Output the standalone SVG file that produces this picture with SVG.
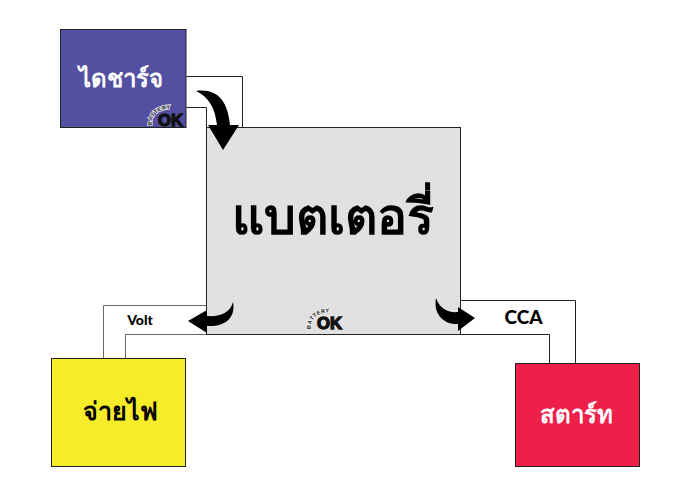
<svg xmlns="http://www.w3.org/2000/svg" xmlns:xlink="http://www.w3.org/1999/xlink" width="678" height="504" viewBox="0 0 678 504">
<style>
.box{stroke:#222;stroke-width:1}
.con{fill:none;stroke:#222;stroke-width:1}
.gr{stroke:#666}
.arr{fill:#000;stroke:none}
text{font-family:"Noto Sans","Noto Sans CJK SC",sans-serif;text-anchor:middle}
.th{font-weight:700}
.lb{font-family:"Lato","Noto Sans",sans-serif;font-weight:900}
.ok{font-family:"Liberation Sans",sans-serif;font-weight:700;font-size:17px;fill:#111;stroke:#111;stroke-width:1.300;text-anchor:start}
.bt{font-family:"Liberation Sans",sans-serif;font-size:5.500px;font-weight:700;fill:#111;stroke:#eee;stroke-width:1.500;paint-order:stroke;text-anchor:start;letter-spacing:.5px}
.tiny{fill:#999;stroke:#999}
</style>
<defs>
<path id="arc" d="M-6 0C-8 -10 2 -19 19 -16"/>
<g id="logo">
<text class="bt"><textPath href="#arc" xlink:href="#arc">BATTERY</textPath></text>
<text class="ok" x="0" y="0" textLength="25" lengthAdjust="spacingAndGlyphs">OK</text>
</g>
</defs>
<rect width="678" height="504" fill="#fff"/>
<g id="connectors">
<path class="con" d="M186.500 76.500H242.500V128"/>
<path class="con" d="M186.500 107.500H206.500V128"/>
<path class="con gr" d="M103.500 358V305.500H207"/>
<path class="con gr" d="M125.500 358V334.500H207"/>
<path class="con" d="M460 300.500H575.500V363"/>
<path class="con" d="M460 334.500H549.500V363"/>
</g>
<g id="node-battery">
<rect class="box" x="206.500" y="127.500" width="254" height="207" fill="#e1e1e1"/>
<text class="th" x="333" y="234" font-size="50" fill="#000">แบตเตอรี่</text>
<use href="#logo" xlink:href="#logo" x="317" y="329"/>
</g>
<g id="node-charge">
<rect class="box" x="60.500" y="29.500" width="125.500" height="98" fill="#5350a2"/>
<text class="th" x="120.500" y="87" font-size="24" fill="#fff">ไดชาร์จ</text>
<use href="#logo" xlink:href="#logo" x="158" y="125.500"/>
</g>
<g id="node-supply">
<rect class="box" x="51.500" y="358.500" width="134" height="108" fill="#f6ec2a"/>
<text class="th" x="120.500" y="420" font-size="25" fill="#000">จ่ายไฟ</text>
</g>
<g id="node-start">
<rect class="box" x="515.500" y="363.500" width="124" height="103" fill="#ee2049"/>
<text class="th" x="576.500" y="423" font-size="24" fill="#fff">สตาร์ท</text>
</g>
<g id="arrows">
<path class="arr" d="M196 91C218 88 228 102 230 125H239L223 150L208 125H217C215 108 209 97 196 91Z"/>
<path class="arr" d="M233 302C236 318 225 327 207 326V333L188 321L207 310V316C220 317 230 313 233 302Z"/>
<path class="arr" d="M436 298C433 314 444 325 458 324V331L475 318L458 307V312C448 313 440 309 436 298Z"/>
</g>
<g id="labels">
<text class="lb" x="140" y="325" font-size="14" fill="#000">Volt</text>
<text class="lb" x="523.500" y="324" font-size="19" fill="#000">CCA</text>
</g>
</svg>
